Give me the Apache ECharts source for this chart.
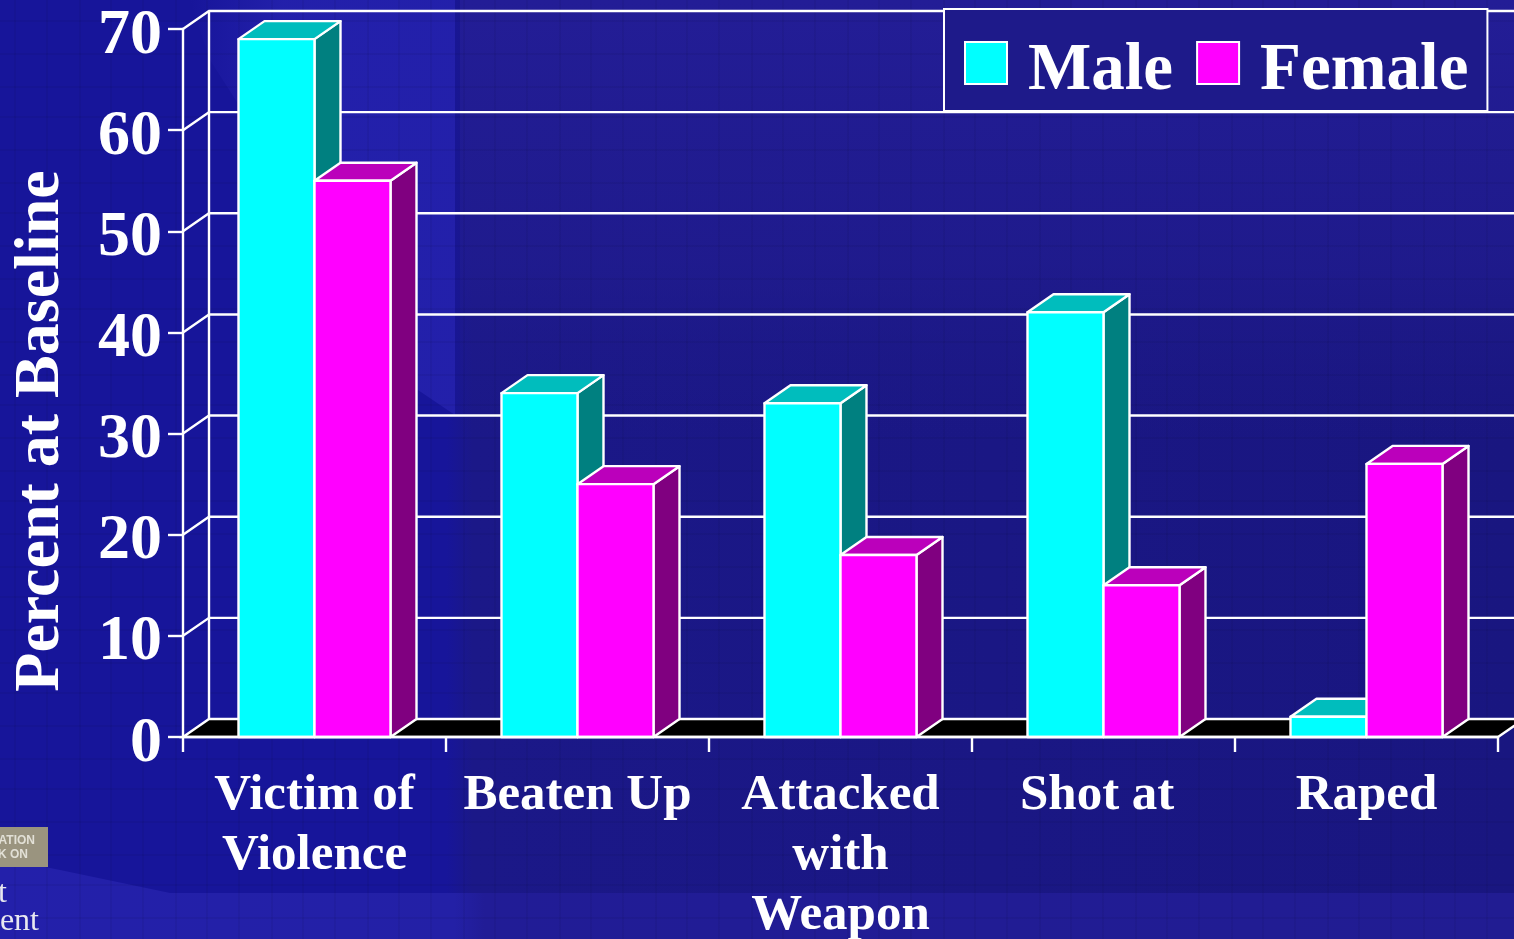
<!DOCTYPE html>
<html><head><meta charset="utf-8">
<style>html,body{margin:0;padding:0;background:#17159a;overflow:hidden}#c{width:1514px;height:939px}</style>
<script src="https://cdn.jsdelivr.net/npm/echarts@6/dist/echarts.min.js"></script>
</head><body><div id="c"></div>
<script>
const categories = ['Victim of\nViolence', 'Beaten Up', 'Attacked\nwith\nWeapon', 'Shot at ', 'Raped'];
const maleValues = [69, 34, 33, 42, 2];
const femaleValues = [55, 25, 18, 15, 27];
const wallTicks = [10, 20, 30, 40, 50, 60, 70];
const serifFont = '"Liberation Serif", serif';

const DX = 26, DY = -18, LW = 2.4;
const W = 1514, H = 939;
const chart = echarts.init(document.getElementById('c'), null, {renderer: 'canvas', width: W, height: H});

function texture() {
  const c = document.createElement('canvas');
  c.width = 96; c.height = 96;
  const g = c.getContext('2d');
  g.fillStyle = 'rgba(0,0,30,0.06)';
  for (const x of [14, 46, 79]) g.fillRect(x, 0, 2, 96);
  for (const y of [20, 53, 86]) g.fillRect(0, y, 96, 2);
  return c;
}

function barRender(offset) {
  return function (params, api) {
    const center = api.coord([api.value(0), 0]);
    const top = api.coord([api.value(0), api.value(1)]);
    const w = api.size([1, 0])[0] * 0.289;
    const x0 = offset < 0 ? center[0] - w : center[0];
    const x1 = x0 + w;
    const y0 = center[1], y1 = top[1];
    const colors = offset < 0
      ? ['#00ffff', '#00bdbd', '#008080']
      : ['#ff00ff', '#bb00bb', '#800080'];
    const st = (fill) => ({fill: fill, stroke: '#ffffff', lineWidth: LW, lineJoin: 'round'});
    return {type: 'group', children: [
      {type: 'polygon', shape: {points: [[x1, y0], [x1 + DX, y0 + DY], [x1 + DX, y1 + DY], [x1, y1]]}, style: st(colors[2])},
      {type: 'polygon', shape: {points: [[x0, y1], [x0 + DX, y1 + DY], [x1 + DX, y1 + DY], [x1, y1]]}, style: st(colors[1])},
      {type: 'rect', shape: {x: x0, y: y1, width: w, height: y0 - y1}, style: st(colors[0])}
    ]};
  };
}

function wallRender(params, api) {
  const v = api.value(0);
  const p = api.coord([0, v]);
  const left = p[0] - api.size([1, 0])[0] / 2;
  return {type: 'polyline', shape: {points: [[left, p[1]], [left + DX, p[1] + DY], [W + 10, p[1] + DY]]},
    style: {fill: 'none', stroke: '#ffffff', lineWidth: LW}};
}

function floorRender(params, api) {
  const p = api.coord([0, 0]);
  const bw = api.size([1, 0])[0];
  const left = p[0] - bw / 2;
  const right = left + bw * categories.length;
  const top = api.coord([0, 70]);
  return {type: 'group', children: [
    {type: 'line', shape: {x1: left + DX, y1: p[1] + DY, x2: left + DX, y2: top[1] + DY}, style: {stroke: '#ffffff', lineWidth: LW}},
    {type: 'polygon', shape: {points: [[left, p[1]], [left + DX, p[1] + DY], [right + DX, p[1] + DY], [right, p[1]]]},
      style: {fill: '#000000', stroke: '#ffffff', lineWidth: LW}}
  ]};
}

chart.setOption({
  animation: false,
  backgroundColor: '#17159a',
  graphic: [
    {type: 'rect', z: -20, shape: {x: 0, y: 0, width: W, height: H}, style: {fill: {type: 'linear', x: 0, y: 0, x2: 1, y2: 0, colorStops: [
      {offset: 0, color: '#17159a'}, {offset: 0.295, color: '#17159a'}, {offset: 0.312, color: '#1b1888'}, {offset: 1, color: '#191680'}]}}},
    {type: 'polygon', z: -19, shape: {points: [[190, 0], [455, 0], [455, 415], [415, 388], [300, 200], [210, 60]]},
      style: {fill: {type: 'linear', x: 0, y: 0, x2: 1, y2: 0, colorStops: [{offset: 0, color: 'rgba(36,33,172,0)'}, {offset: 0.35, color: 'rgba(36,33,172,0.9)'}, {offset: 1, color: 'rgba(36,33,172,0.9)'}]}}},
    {type: 'rect', z: -19, shape: {x: 460, y: 0, width: W - 460, height: 440}, style: {fill: {type: 'linear', x: 0, y: 0, x2: 0, y2: 1, colorStops: [
      {offset: 0, color: 'rgba(35,29,150,1)'}, {offset: 0.6, color: 'rgba(33,28,144,0.7)'}, {offset: 1, color: 'rgba(30,26,136,0)'}]}}},
    {type: 'polygon', z: -19, shape: {points: [[0, 858], [60, 870], [170, 893], [W, 893], [W, H], [0, H]]},
      style: {fill: {type: 'linear', x: 0, y: 0, x2: 1, y2: 0, colorStops: [{offset: 0, color: '#2320aa'}, {offset: 0.3, color: '#2320a6'}, {offset: 0.32, color: '#211c96'}, {offset: 1, color: '#211c92'}]}}},
    {type: 'rect', z: -18, shape: {x: 0, y: 0, width: W, height: H}, style: {fill: {image: texture(), repeat: 'repeat'}}},
    {type: 'rect', z: -5, shape: {x: 0, y: 827, width: 48, height: 40}, style: {fill: '#9a947f'}},
    {type: 'text', z: -4, x: 35, y: 841, style: {text: 'ATION', align: 'right', verticalAlign: 'middle', font: 'bold 12px "Liberation Sans"', fill: '#e2e0d6'}},
    {type: 'text', z: -4, x: 28, y: 855, style: {text: 'K ON', align: 'right', verticalAlign: 'middle', font: 'bold 12px "Liberation Sans"', fill: '#e2e0d6'}},
    {type: 'text', z: -4, x: 7, y: 894, style: {text: 't', align: 'right', verticalAlign: 'middle', font: '32px "Liberation Serif"', fill: '#e8e8f0'}},
    {type: 'text', z: -4, x: 39, y: 922, style: {text: 'ent', align: 'right', verticalAlign: 'middle', font: '32px "Liberation Serif"', fill: '#e8e8f0'}}
  ],
  grid: {left: 183, right: 16, top: 29, bottom: 202, containLabel: false, outerBoundsMode: 'none'},
  legend: {
    left: 944, top: 9, orient: 'horizontal',
    padding: [29.5, 19, 5.5, 20],
    itemWidth: 42, itemHeight: 42, itemGap: 23,
    backgroundColor: '#1e1a8a', borderColor: '#ffffff', borderWidth: 2, borderRadius: 0,
    formatter: '{n|{name}}',
    textStyle: {color: '#ffffff', fontFamily: serifFont, fontWeight: 'bold', fontSize: 67,
      rich: {n: {color: '#ffffff', fontFamily: serifFont, fontWeight: 'bold', fontSize: 67, padding: [18, 0, 0, 16]}}},
    data: [
      {name: 'Male', icon: 'rect', itemStyle: {color: '#00ffff', borderColor: '#ffffff', borderWidth: 2}},
      {name: 'Female', icon: 'rect', itemStyle: {color: '#ff00ff', borderColor: '#ffffff', borderWidth: 2}}
    ],
    selectedMode: false
  },
  xAxis: {
    type: 'category', data: categories,
    axisLine: {show: true, onZero: true, lineStyle: {color: '#ffffff', width: LW}},
    axisTick: {show: true, alignWithLabel: false, inside: false, length: 15, lineStyle: {color: '#ffffff', width: LW}},
    axisLabel: {interval: 0, color: '#ffffff', fontFamily: serifFont, fontWeight: 'bold', fontSize: 51, lineHeight: 60, margin: 29},
    z: 5
  },
  yAxis: {
    type: 'value', min: 0, max: 70, interval: 10,
    name: 'Percent at Baseline', nameLocation: 'middle', nameGap: 110, nameRotate: 90,
    nameTextStyle: {color: '#ffffff', fontFamily: serifFont, fontWeight: 'bold', fontSize: 64, padding: [0, 96, 0, 0]},
    axisLine: {show: true, lineStyle: {color: '#ffffff', width: LW}},
    axisTick: {show: true, length: 15, lineStyle: {color: '#ffffff', width: LW}},
    axisLabel: {color: '#ffffff', fontFamily: serifFont, fontWeight: 'bold', fontSize: 64, margin: 21, verticalAlign: 'top', lineHeight: 14},
    splitLine: {show: false}
  },
  series: [
    {type: 'custom', name: 'walls', z: 1, silent: true, coordinateSystem: 'cartesian2d', data: wallTicks.map(v => [v]), encode: {y: 0}, renderItem: wallRender},
    {type: 'custom', name: 'floor', z: 1, silent: true, coordinateSystem: 'cartesian2d', data: [[0]], encode: {y: 0}, renderItem: floorRender},
    {type: 'custom', name: 'Male', z: 3, coordinateSystem: 'cartesian2d', itemStyle: {color: '#00ffff'},
      data: categories.map((c, i) => [i, maleValues[i]]), encode: {x: 0, y: 1}, renderItem: barRender(-1)},
    {type: 'custom', name: 'Female', z: 4, coordinateSystem: 'cartesian2d', itemStyle: {color: '#ff00ff'},
      data: categories.map((c, i) => [i, femaleValues[i]]), encode: {x: 0, y: 1}, renderItem: barRender(1)}
  ]
});
</script></body></html>
